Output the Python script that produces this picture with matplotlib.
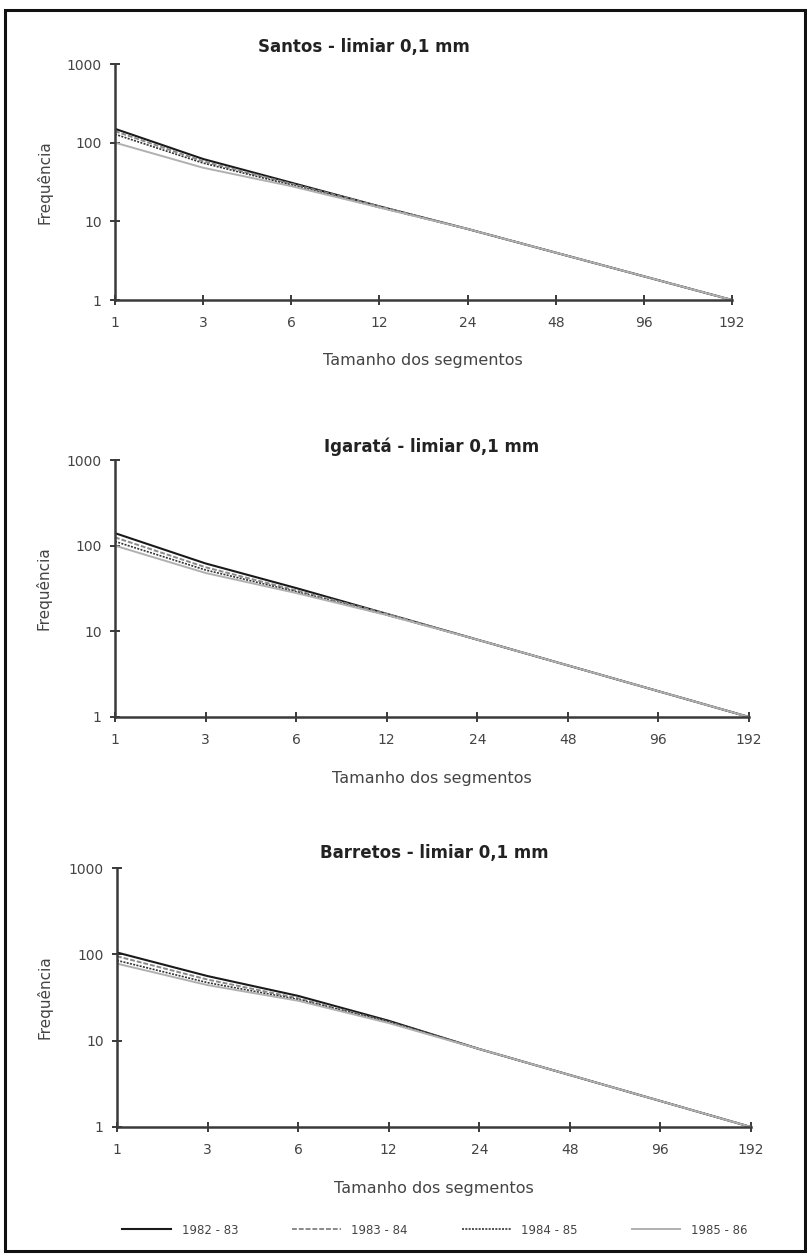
import matplotlib
matplotlib.use("Agg")
import matplotlib.pyplot as plt
from matplotlib.lines import Line2D
from matplotlib.patches import Rectangle

plt.rcParams['font.family'] = ['DejaVu Sans']

segments = ["1", "3", "6", "12", "24", "48", "96", "192"]
series_names = ["1982 - 83", "1983 - 84", "1984 - 85", "1985 - 86"]

santos = {
    "1982 - 83": [150, 62, 31, 15.5, 8, 4, 2, 1],
    "1983 - 84": [140, 58, 30, 15.5, 8, 4, 2, 1],
    "1984 - 85": [128, 55, 29, 15, 8, 4, 2, 1],
    "1985 - 86": [100, 48, 28, 15, 8, 4, 2, 1],
}
igarata = {
    "1982 - 83": [140, 62, 32, 16, 8, 4, 2, 1],
    "1983 - 84": [125, 56, 30, 16, 8, 4, 2, 1],
    "1984 - 85": [112, 52, 29, 15.5, 8, 4, 2, 1],
    "1985 - 86": [100, 48, 28, 15.5, 8, 4, 2, 1],
}
barretos = {
    "1982 - 83": [105, 56, 33, 17, 8, 4, 2, 1],
    "1983 - 84": [95, 51, 31, 16.5, 8, 4, 2, 1],
    "1984 - 85": [85, 47, 30, 16.5, 8, 4, 2, 1],
    "1985 - 86": [78, 44, 29, 16, 8, 4, 2, 1],
}
titles = ["Santos - limiar 0,1 mm", "Igaratá - limiar 0,1 mm", "Barretos - limiar 0,1 mm"]
panels = [santos, igarata, barretos]

styles = {
    "1982 - 83": dict(color="#1a1a1a", ls="-", lw=1.5),
    "1983 - 84": dict(color="#8a8a8a", ls=(0, (2.5, 1)), lw=1.4),
    "1984 - 85": dict(color="#333333", ls=(0, (1.2, 0.8)), lw=1.2),
    "1985 - 86": dict(color="#b0b0b0", ls="-", lw=1.4),
}

TXT = '#444444'
W, H = 807, 1254
fig = plt.figure(figsize=(W / 100, H / 100), dpi=100)

# axes boxes in pixels: left, right, top(1000), bottom(1)
boxes = [(115, 732, 64, 300), (115, 749, 460, 717), (117, 751, 868, 1127)]
title_pos = [(364, 47), (432, 447), (434, 853)]
xlabel_pos = [(423, 361), (432, 778), (434, 1188)]

for i, (data, box) in enumerate(zip(panels, boxes)):
    l, r, t, b = box
    ax = fig.add_axes([l / W, 1 - b / H, (r - l) / W, (b - t) / H])
    xs = list(range(len(segments)))
    for name in series_names:
        ax.plot(xs, data[name], **styles[name])
    ax.set_yscale('log')
    ax.set_ylim(1, 1000)
    ax.set_xlim(0, len(segments) - 1)
    ax.set_xticks(xs)
    ax.set_xticklabels(segments)
    ax.set_yticks([1, 10, 100, 1000])
    ax.set_yticklabels(["1", "10", "100", "1000"])
    ax.minorticks_off()
    for s in ['top', 'right']:
        ax.spines[s].set_visible(False)
    for s in ['left', 'bottom']:
        ax.spines[s].set_linewidth(1.8)
        ax.spines[s].set_color('#3a3a3a')
    ax.tick_params(direction='inout', length=7, width=1.4, color='#3a3a3a',
                   labelsize=10, labelcolor=TXT)
    ax.tick_params(axis='x', pad=8)
    ax.tick_params(axis='y', pad=6)
    ax.set_ylabel("Frequência", fontsize=11, color=TXT)
    ax.yaxis.set_label_coords((52 - l) / (r - l), 0.5)
    fig.text(title_pos[i][0] / W, 1 - title_pos[i][1] / H, titles[i],
             fontsize=12, fontweight='bold', ha='center', va='center', color='#222222')
    fig.text(xlabel_pos[i][0] / W, 1 - xlabel_pos[i][1] / H, "Tamanho dos segmentos",
             fontsize=11.5, ha='center', va='center', color=TXT)

handles = [Line2D([0], [0], **styles[n]) for n in series_names]
fig.legend(handles, series_names, loc='center', ncol=4, frameon=False,
           bbox_to_anchor=(435 / W, 1 - 1230 / H), fontsize=8.5, handlelength=4.1,
           handletextpad=0.9, columnspacing=4.6, labelcolor=TXT)

fig.patches.append(Rectangle((5 / W, 3 / H), 800 / W, 1 - 13 / H, transform=fig.transFigure,
                             fill=False, edgecolor='#111111', lw=2.2))

fig.savefig("out.png", dpi=100)
